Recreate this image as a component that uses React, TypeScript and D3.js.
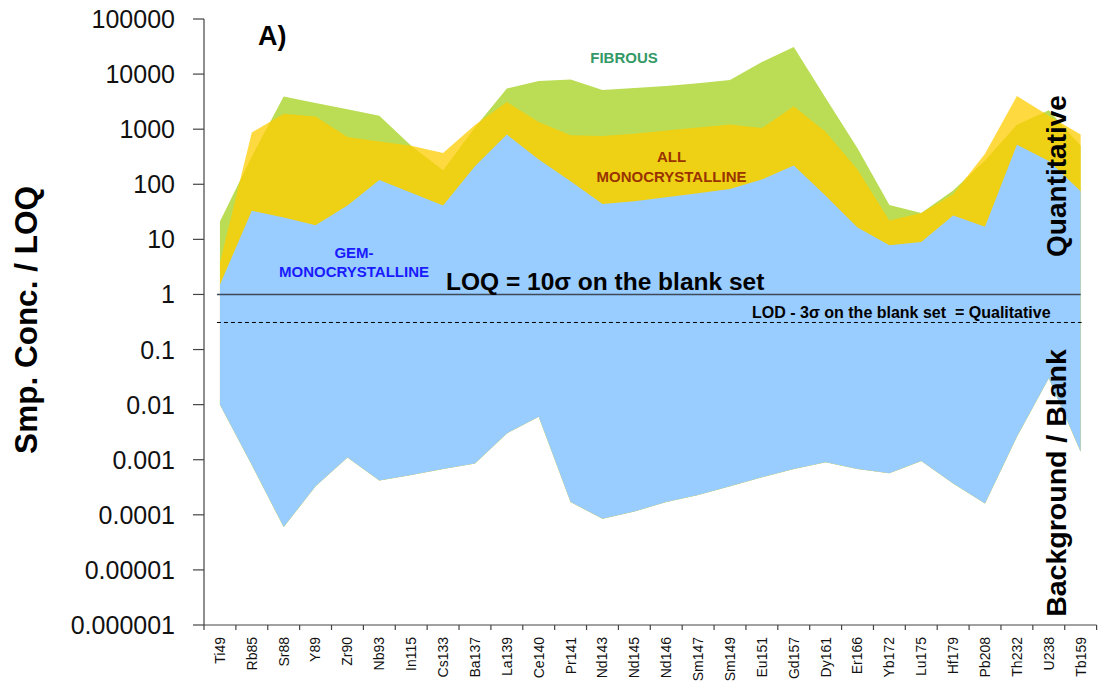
import React from "react";
import * as d3 from "d3";

const categories = ["Ti49","Rb85","Sr88","Y89","Zr90","Nb93","In115","Cs133","Ba137","La139","Ce140","Pr141","Nd143","Nd145","Nd146","Sm147","Sm149","Eu151","Gd157","Dy161","Er166","Yb172","Lu175","Hf179","Pb208","Th232","U238","Tb159"];

// upper envelope of fibrous samples
const fibrousMax = [21, 320, 3900, 3000, 2300, 1750, 500, 180, 1070, 5500, 7500, 7950, 5150, 5600, 6050, 6800, 7800, 16500, 31000, 3700, 450, 42, 30, 77, 270, 1200, 2200, 500];
// upper envelope of all monocrystalline samples
const monoMax = [3.8, 870, 1900, 1700, 720, 600, 500, 370, 1190, 3100, 1350, 780, 750, 830, 950, 1070, 1220, 1050, 2600, 900, 185, 22, 30, 66, 360, 4000, 1750, 800];
// gem-monocrystalline upper and lower envelope
const gemMax = [1.5, 33, 25, 18, 41, 120, 70, 41, 212, 800, 283, 114, 44, 49, 58, 69, 82, 122, 220, 62, 16.4, 7.8, 9, 27, 17, 520, 265, 75];
const gemMin = [0.01, 0.0008, 0.00006, 0.00033, 0.0011, 0.00042, 0.00053, 0.00068, 0.00085, 0.003, 0.006, 0.00017, 0.000085, 0.000115, 0.00017, 0.00023, 0.00033, 0.00048, 0.00068, 0.0009, 0.00068, 0.00057, 0.00095, 0.00037, 0.00016, 0.0026, 0.03, 0.0014];

const yTickValues = [1e5, 1e4, 1e3, 1e2, 10, 1, 0.1, 0.01, 0.001, 0.0001, 0.00001, 0.000001];
const yTickLabels = ["100000", "10000", "1000", "100", "10", "1", "0.1", "0.01", "0.001", "0.0001", "0.00001", "0.000001"];

const LOQ = 1;
const LOD = 0.31;

const W = 1105;
const H = 682;
const left = 204;
const right = 1096.6;
const top = 19;
const bottom = 625;

export default function App() {
  const x = d3.scaleBand<string>().domain(categories).range([left, right]).paddingInner(0).paddingOuter(0);
  const y = d3.scaleLog().domain([1e-6, 1e5]).range([bottom, top]);
  const cx = (i: number) => (x(categories[i]) as number) + x.bandwidth() / 2;

  const band = (upper: number[], lower: number[]) =>
    d3
      .area<number>()
      .x((_, i) => cx(i))
      .y0((_, i) => y(lower[i]))
      .y1((d) => y(d))(upper) as string;

  const font = "'Liberation Sans', Arial, sans-serif";
  const x0 = cx(0) - 3;
  const x1 = cx(categories.length - 1);

  return (
    <svg width={W} height={H} style={{ position: "absolute", left: 0, top: 0, background: "#fff" }} fontFamily={font}>
      <path d={band(fibrousMax, gemMin)} fill="#BBDD55" />
      <path d={band(monoMax, gemMin)} fill="#FFCC00" fillOpacity={0.75} />
      <path d={band(gemMax, gemMin)} fill="#99CCFF" />

      <line x1={x0} x2={x1} y1={y(LOQ)} y2={y(LOQ)} stroke="#3C4A5A" strokeWidth={1.6} />
      <line x1={x0} x2={x1 + 1} y1={y(LOD)} y2={y(LOD)} stroke="#000" strokeWidth={1} strokeDasharray="4,3" />

      <text x={446} y={290} fontSize={24.5} fontWeight="bold" fill="#000">LOQ = 10σ on the blank set</text>
      <text x={752} y={318} fontSize={16} fontWeight="bold" fill="#000" style={{ whiteSpace: "pre" }}>LOD - 3σ on the blank set  = Qualitative</text>

      <text x={258} y={45} fontSize={27} fontWeight="bold" fill="#000">A)</text>
      <text x={624} y={62.5} fontSize={15} fontWeight="bold" fill="#339966" textAnchor="middle">FIBROUS</text>
      <text x={671.5} y={161.7} fontSize={15} fontWeight="bold" fill="#993300" textAnchor="middle">ALL</text>
      <text x={671.5} y={181.7} fontSize={15} fontWeight="bold" fill="#993300" textAnchor="middle">MONOCRYSTALLINE</text>
      <text x={354} y={258.3} fontSize={15} fontWeight="bold" fill="#1A1AFF" textAnchor="middle">GEM-</text>
      <text x={354} y={277.3} fontSize={15} fontWeight="bold" fill="#1A1AFF" textAnchor="middle">MONOCRYSTALLINE</text>

      <text transform={`translate(1066,176) rotate(-90)`} fontSize={28} fontWeight="bold" fill="#000" textAnchor="middle">Quantitative</text>
      <text transform={`translate(1066,483) rotate(-90)`} fontSize={28.5} fontWeight="bold" fill="#000" textAnchor="middle">Background / Blank</text>

      <text transform={`translate(37,320) rotate(-90)`} fontSize={31.5} fontWeight="bold" fill="#000" textAnchor="middle">Smp. Conc. / LOQ</text>

      {/* y axis */}
      <line x1={left} x2={left} y1={top} y2={bottom + 5} stroke="#444" strokeWidth={1.2} />
      {yTickValues.map((v, i) => (
        <g key={v}>
          <line x1={left - 11} x2={left} y1={y(v)} y2={y(v)} stroke="#444" strokeWidth={1.2} />
          <text x={175} y={y(v)} dy="0.36em" fontSize={25} fill="#111" textAnchor="end">{yTickLabels[i]}</text>
        </g>
      ))}

      {/* x axis */}
      <line x1={left} x2={right} y1={bottom} y2={bottom} stroke="#444" strokeWidth={1.2} />
      {categories.map((c, i) => (
        <g key={c}>
          <line x1={(x(c) as number) + x.bandwidth()} x2={(x(c) as number) + x.bandwidth()} y1={bottom} y2={bottom + 5} stroke="#444" strokeWidth={1.2} />
          <text transform={`translate(${cx(i)},637) rotate(-90)`} dy="0.35em" fontSize={14} fill="#111" textAnchor="end">{c}</text>
        </g>
      ))}
    </svg>
  );
}
